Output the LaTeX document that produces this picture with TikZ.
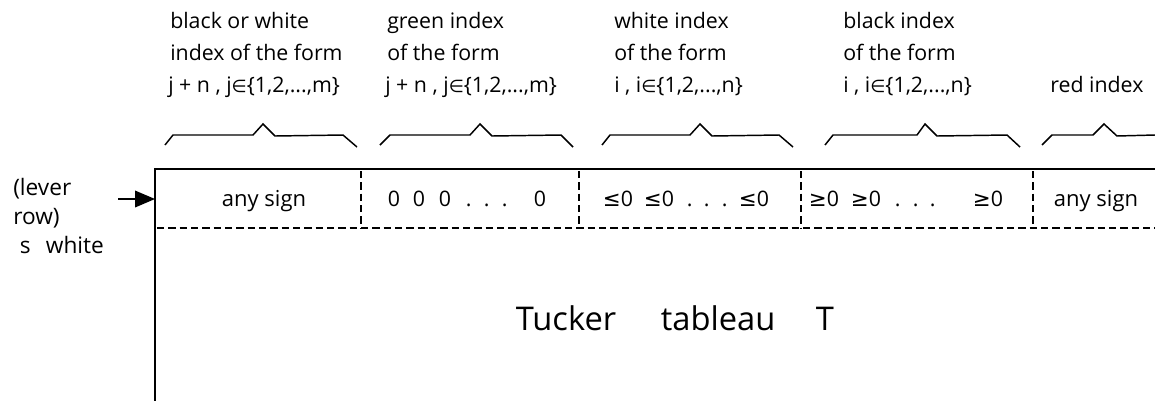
\documentclass[tikz,border=0pt]{standalone}
\usepackage{fontspec}
\setmainfont{Open Sans}
\newfontfamily\symf{DejaVu Sans}
\usetikzlibrary{arrows.meta}
\newdimen\px \px=0.75pt
\newcommand\tk[2]{\makebox[0pt][l]{\hspace{#1\px}#2}}
\newcommand\elem{{\symf\fontsize{13}{16}\selectfont ∈}}
\begin{document}
\begin{tikzpicture}[x=0.75pt,y=-0.75pt,
  hdr/.style={anchor=base west, inner sep=0, font=\fontsize{16}{19}\selectfont},
  lbl/.style={anchor=base west, inner sep=0, font=\fontsize{17}{20}\selectfont},
  cell/.style={anchor=base, inner sep=0, font=\fontsize{16.5}{19}\selectfont},
  tok/.style={anchor=base west, inner sep=0, font=\fontsize{16}{19}\selectfont},
  brace/.style={line width=1.1pt, line join=miter},
  frame/.style={line width=1.2pt},
  dsh/.style={line width=1.1pt, dash pattern=on 5.5pt off 3pt}]
\useasboundingbox (0,0) rectangle (1155,401);
% headers
\node[hdr] (h11) at (170,28) {black or white};
\node[hdr] (h12) at (170,60) {index of the form};
\node[hdr] (h13) at (168,92) {j + n , j\elem\{1,2,...,m\}};
\node[hdr] (h21) at (387,28) {green index};
\node[hdr] (h22) at (387,60) {of the form};
\node[hdr] (h23) at (385,92) {j + n , j\elem\{1,2,...,m\}};
\node[hdr] (h31) at (614,28) {white index};
\node[hdr] (h32) at (614,60) {of the form};
\node[hdr] (h33) at (614,92) {i , i\elem\{1,2,...,n\}};
\node[hdr] (h41) at (843,28) {black index};
\node[hdr] (h42) at (843,60) {of the form};
\node[hdr] (h43) at (843,92) {i , i\elem\{1,2,...,n\}};
\node[hdr] (h51) at (1050,92) {red index};
% braces
\draw[brace] (165,145) -- (173,135) -- (253,135) -- (263,124) -- (275,136) -- (343,135) -- (357,147);
\draw[brace] (380,145) -- (390,135) -- (470,135) -- (480,124) -- (492,136) -- (561,135) -- (573,147);
\draw[brace] (602,145) -- (610,135) -- (690,135) -- (700,124) -- (712,136) -- (779,135) -- (793,147);
\draw[brace] (825,145) -- (833,135) -- (917,135) -- (925,124) -- (937,136) -- (1007,135) -- (1020,147);
\draw[brace] (1042,145) -- (1052,135) -- (1093,135) -- (1104,124) -- (1117,136) -- (1155,135);
% frame
\coordinate (tl) at (155,169);
\coordinate (tr) at (1155,169);
\coordinate (bl) at (155,401);
\coordinate (dl) at (157,228);
\coordinate (dr) at (1155,228);
\draw[frame] (tr) -- (tl) -- (bl);
\draw[dsh] (dl) -- (dr);
\foreach \x/\n in {361/a,579/b,801/c,1033/d}{
  \coordinate (v\n t) at (\x,171);
  \coordinate (v\n b) at (\x,228);
  \draw[dsh] (v\n t) -- (v\n b);
}
% arrow
\coordinate (as) at (118,199);
\draw[line width=1.1pt, -{Triangle[length=15pt,width=12.5pt]}] (as) -- (as -| tl);
% left labels
\node[lbl] (l1) at (13,195) {(lever};
\node[lbl] (l2) at (13,224) {row)};
\node[lbl] (l3) at (19,253) {\tk{0}{s}\tk{26}{white}};
% cells
\node[cell] (c1) at (264,206) {any sign};
\node[tok] (c2) at (387,206) {\tk{0}{0}\tk{25}{0}\tk{51}{0}\tk{78}{.}\tk{96}{.}\tk{114}{.}\tk{146}{0}};
\node[tok] (c3) at (602,206) {\tk{0}{{\symf ≤}0}\tk{41}{{\symf ≤}0}\tk{84}{.}\tk{101}{.}\tk{119}{.}\tk{136}{{\symf ≤}0}};
\node[tok] (c4) at (808,206) {\tk{0}{{\symf ≥}0}\tk{42}{{\symf ≥}0}\tk{86}{.}\tk{104}{.}\tk{121}{.}\tk{164}{{\symf ≥}0}};
\node[cell] (c5) at (1096,206) {any sign};
% title
\node[anchor=base west, inner sep=0, font=\fontsize{24.5}{28}\selectfont] (tt) at (515,330) {\tk{0}{Tucker}\tk{145}{tableau}\tk{300}{T}};
\end{tikzpicture}
\end{document}
